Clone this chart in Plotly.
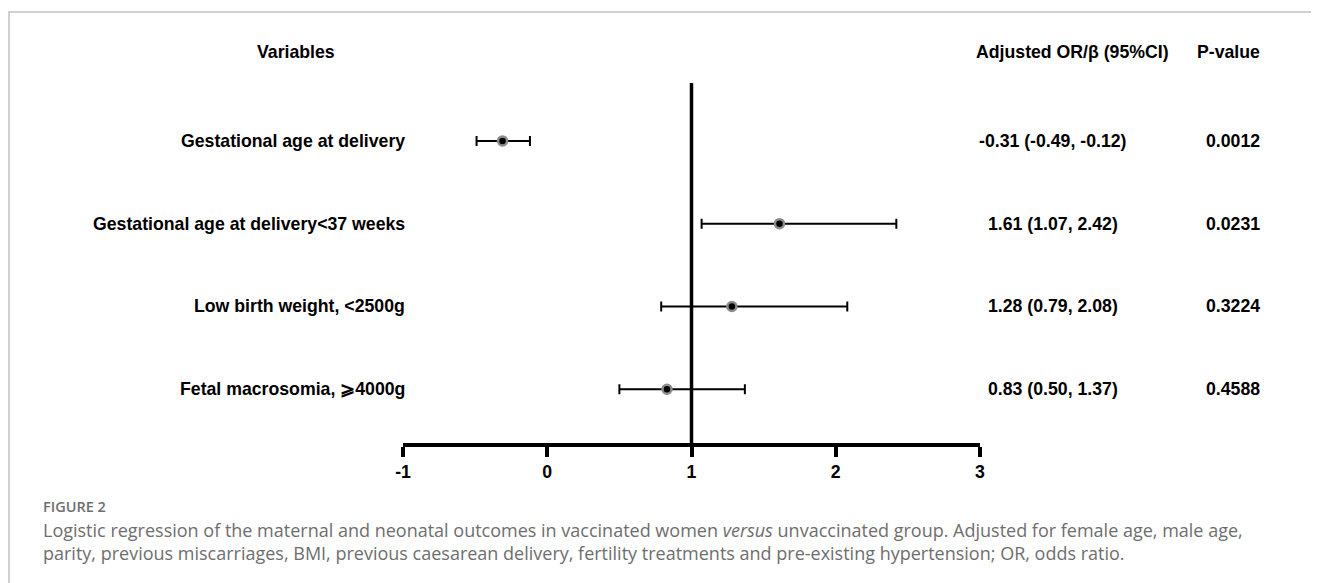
import plotly.graph_objects as go

# ---------------- data ----------------
variables = [
    "Gestational age at delivery",
    "Gestational age at delivery<37 weeks",
    "Low birth weight, <2500g",
    "Fetal macrosomia, \u2a7e4000g",
]
estimate = [-0.31, 1.61, 1.28, 0.83]
ci_low = [-0.49, 1.07, 0.79, 0.50]
ci_high = [-0.12, 2.42, 2.08, 1.37]
p_values = ["0.0012", "0.0231", "0.3224", "0.4588"]
row_pos = [4, 3, 2, 1]
x_ticks = [-1, 0, 1, 2, 3]
ref_value = 1

est_text = [f"{e:.2f} ({l:.2f}, {h:.2f})" for e, l, h in zip(estimate, ci_low, ci_high)]

# ---------------- layout geometry (page pixels; body margin 8px) ----------------
OFF = 8
W, H = 1319 - OFF, 583 - OFF
L, R = 403 - OFF, 980 - OFF     # plot area left/right
T, B = 83 - OFF, 443 - OFF      # plot area top/bottom
PW, PH = R - L, B - T


def px(x):
    return (x - OFF - L) / PW


def py(y):
    return (B - (y - OFF)) / PH


FONT = "Liberation Sans, Arial, Helvetica, sans-serif"
CAP_FONT = "Open Sans, Noto Sans, sans-serif"
FS = 17.7

fig = go.Figure()

fig.add_trace(go.Scatter(
    x=estimate,
    y=row_pos,
    mode="markers",
    marker=dict(size=9, color="black", line=dict(width=2.5, color="#8c8c8c")),
    error_x=dict(
        type="data",
        symmetric=False,
        array=[h - e for h, e in zip(ci_high, estimate)],
        arrayminus=[e - l for e, l in zip(estimate, ci_low)],
        color="black",
        thickness=2,
        width=5,
    ),
    showlegend=False,
    hoverinfo="skip",
))

# reference line at 1
fig.add_shape(type="line", xref="x", yref="paper", x0=ref_value, x1=ref_value,
              y0=0, y1=1, line=dict(color="black", width=3.5), layer="below")

annotations = []
# headers
hdr_y = py(52)
annotations.append(dict(x=px(296), y=hdr_y, text="Variables", xanchor="center"))
annotations.append(dict(x=px(1072), y=hdr_y, text="Adjusted OR/\u03b2 (95%CI)", xanchor="center"))
annotations.append(dict(x=px(1262), y=hdr_y, text="P-value", xanchor="right"))

for v, r, et, pv in zip(variables, row_pos, est_text, p_values):
    annotations.append(dict(x=px(407), y=r, yref="y", text=v, xanchor="right"))
    annotations.append(dict(x=px(1053), y=r, yref="y", text=et, xanchor="center"))
    annotations.append(dict(x=px(1262), y=r, yref="y", text=pv, xanchor="right"))

for a in annotations:
    a.setdefault("yref", "paper")
    a["xref"] = "paper"
    a["showarrow"] = False
    a["yanchor"] = "middle"
    a["font"] = dict(family=FONT, size=FS, color="black", weight="bold")

# caption
cap_color = "#6e6e6e"
annotations.append(dict(x=px(42), y=py(506), xref="paper", yref="paper", showarrow=False,
                        xanchor="left", yanchor="middle", text="FIGURE 2", borderpad=0,
                        font=dict(family=CAP_FONT, size=14.5, color=cap_color, weight=600)))
cap1 = ("Logistic regression of the maternal and neonatal outcomes in vaccinated women "
        "<i>versus</i> unvaccinated group. Adjusted for female age, male age,")
cap2 = ("parity, previous miscarriages, BMI, previous caesarean delivery, fertility treatments "
        "and pre-existing hypertension; OR, odds ratio.")
annotations.append(dict(x=px(42), y=py(541), xref="paper", yref="paper", showarrow=False,
                        xanchor="left", yanchor="middle", align="left", borderpad=0,
                        text=cap1 + "<br>" + cap2,
                        font=dict(family=CAP_FONT, size=18, color=cap_color)))

# page borders
fig.add_shape(type="line", xref="paper", yref="paper", x0=px(7), x1=px(1319),
              y0=py(12), y1=py(12), line=dict(color="#d0d0d0", width=2))
fig.add_shape(type="line", xref="paper", yref="paper", x0=px(9), x1=px(9),
              y0=py(12), y1=py(583), line=dict(color="#d0d0d0", width=2))

fig.update_layout(
    width=W, height=H,
    margin=dict(l=L, r=W - R, t=T, b=H - B, pad=0),
    paper_bgcolor="white", plot_bgcolor="white",
    annotations=annotations,
    xaxis=dict(
        range=[-1, 3], tickvals=x_ticks, ticktext=[str(t) for t in x_ticks],
        showgrid=False, zeroline=False, showline=True, linecolor="black", linewidth=3.5,
        ticks="outside", ticklen=10, tickwidth=3.5, tickcolor="black",
        tickfont=dict(family=FONT, size=FS, color="black", weight="bold"),
        fixedrange=True,
    ),
    yaxis=dict(range=[0.35, 4.70], visible=False, fixedrange=True),
)

fig.write_html("out.html")
